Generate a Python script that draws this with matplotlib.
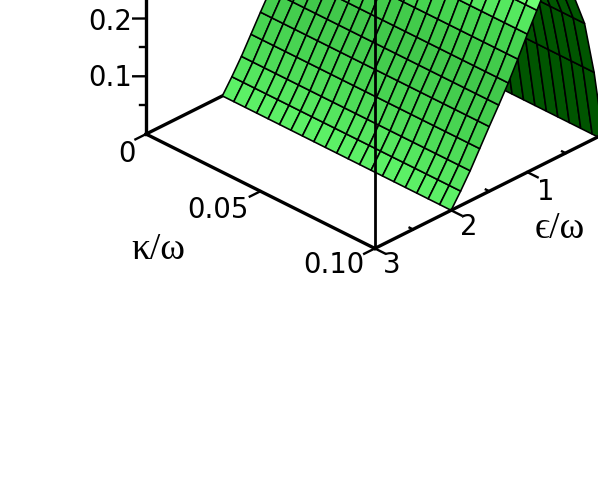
import numpy as np
import matplotlib
matplotlib.use("Agg")
import matplotlib.pyplot as plt

# Surface: nearly independent of kappa, ridge around eps/omega = 0.6
kappa_vals = [0.000, 0.005, 0.010, 0.015, 0.020, 0.025, 0.030, 0.035, 0.040, 0.045, 0.050,
              0.055, 0.060, 0.065, 0.070, 0.075, 0.080, 0.085, 0.090, 0.095, 0.100]
eps_vals = [0.000, 0.125, 0.250, 0.375, 0.500, 0.625, 0.750, 0.875, 1.000,
            1.125, 1.250, 1.375, 1.500, 1.625, 1.750, 1.875, 2.000]
z_vals = [-0.010, 0.115, 0.208, 0.258, 0.295, 0.310, 0.305, 0.272, 0.239,
          0.204, 0.171, 0.141, 0.112, 0.082, 0.052, 0.025, 0.000]
# one colour per band between two eps rows
band_colors = ["#005500", "#005500", "#005500", "#005500", "#005500", "#6eff73",
               "#6eff73", "#55e85f", "#46d450", "#42cb4b", "#41c84b", "#44cd4e",
               "#48d452", "#4edc58", "#55e65f", "#5cf066", "#5cf066"]

z_major = [0.1, 0.2, 0.3, 0.4]
z_minor = [0.05, 0.15, 0.25, 0.35, 0.45]
eps_major = [1, 2, 3]
eps_minor = [0.5, 1.5, 2.5]
kappa_major = [0, 0.05, 0.10]

# label text and where it sits, in pixels of the picture
tick_labels = ["0.2", "0.1", "0", "0.05", "0.10", "3", "2", "1"]
tick_label_x = [110, 110, 127, 218, 334, 392, 469, 546]
tick_label_y = [22, 78, 154, 210, 265, 265, 227, 192]

z_top = 0.485

w, h = 598, 492
fig = plt.figure(figsize=(w/100, h/100), dpi=100)
size = 544.
ax = fig.add_axes([(367.5-size/2)/w, (h-1.3-size/2)/h, size/w, size/h], projection='3d')
ax.set_proj_type('ortho')
ax.view_init(elev=30, azim=-45)
ax.set_box_aspect((1, 1, 1))
ax.computed_zorder = False
ax.set_axis_off()

X, Y = np.meshgrid(kappa_vals, eps_vals)
Z = np.tile(np.array(z_vals)[:, None], (1, len(kappa_vals)))
fc = np.array([matplotlib.colors.to_rgba(c) for c in band_colors])
fc = np.tile(fc[:, None, :], (1, len(kappa_vals), 1))
surf = ax.plot_surface(X, Y, Z, facecolors=fc, rstride=1, cstride=1, shade=False, zorder=2)
surf.set_edgecolor('k')
surf.set_linewidth(1.15)

ax.set_xlim(0, 0.1)
ax.set_ylim(3, 0)
ax.set_zlim(0, z_top)

lw = 2.4
# axes, the back eps line goes under the surface
ax.plot([0, 0], [3, 0], [0, 0], color='k', lw=lw, zorder=1)
ax.plot([0, 0.1], [3, 3], [0, 0], color='k', lw=lw, zorder=3)
ax.plot([0.1, 0.1], [3, 0], [0, 0], color='k', lw=lw, zorder=3)
ax.plot([0, 0], [3, 3], [0, z_top], color='k', lw=lw, zorder=3)
ax.plot([0.1, 0.1], [3, 3], [0, z_top], color='k', lw=2.0, zorder=3)

# ticks
for z in z_major:
    ax.plot([0, -0.0028], [3, 3.085], [z, z], color='k', lw=1.7, zorder=3)
for z in z_minor:
    ax.plot([0, -0.0014], [3, 3.042], [z, z], color='k', lw=1.7, zorder=3)
for e in eps_major:
    ax.plot([0.1, 0.1045], [e, e], [0, 0], color='k', lw=1.7, zorder=3)
for e in eps_minor:
    ax.plot([0.1, 0.0985], [e, e], [0, 0], color='k', lw=1.7, zorder=3)
for k in kappa_major:
    ax.plot([k, k], [3, 3.14], [0, 0], color='k', lw=1.7, zorder=3)

for s, px, py in zip(tick_labels, tick_label_x, tick_label_y):
    fig.text(px/w, 1-py/h, s, fontsize=19.8, ha='center', va='center', family='DejaVu Sans')
serif = ['Liberation Serif', 'DejaVu Serif']
fig.text(158/w, 1-250/h, "κ/ω", fontsize=27, ha='center', va='center', family=serif)
fig.text(560/w, 1-229/h, "ϵ/ω", fontsize=27, ha='center', va='center', family=serif)

fig.savefig("out.png", dpi=100)
